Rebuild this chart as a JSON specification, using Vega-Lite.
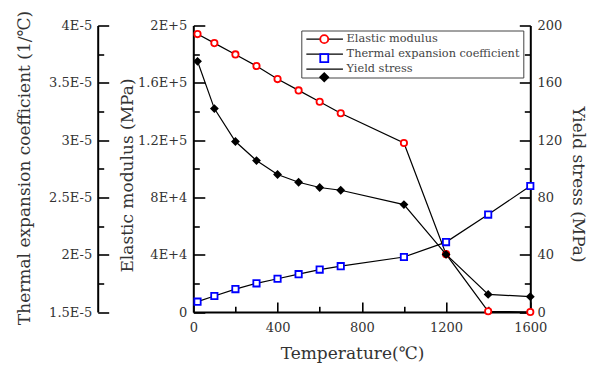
{
  "$schema": "https://vega.github.io/schema/vega-lite/v6.json",
  "width": 337,
  "height": 286.5,
  "autosize": {"type": "none"},
  "padding": {"left": 193.3, "top": 25.5, "right": 65.7, "bottom": 53},
  "background": "white",
  "config": {
    "view": {"stroke": null},
    "axis": {
      "domainColor": "black", "domainWidth": 2, "tickColor": "black", "tickWidth": 1.6,
      "grid": false, "labelFont": "DejaVu Serif", "labelFontSize": 13, "labelColor": "#333",
      "titleFont": "DejaVu Serif", "titleFontSize": 17, "titleFontWeight": "normal", "titleColor": "#333",
      "labelFlush": false, "labelOverlap": false, "labelBound": false
    },
    "legend": {"labelFont": "DejaVu Serif", "labelFontSize": 11.3, "labelLimit": 400}
  },
  "data": {
    "values": [
      {"T": 20, "series": "Elastic modulus", "value": 194000},
      {"T": 100, "series": "Elastic modulus", "value": 187700},
      {"T": 200, "series": "Elastic modulus", "value": 179800},
      {"T": 300, "series": "Elastic modulus", "value": 171700},
      {"T": 400, "series": "Elastic modulus", "value": 162600},
      {"T": 500, "series": "Elastic modulus", "value": 154700},
      {"T": 600, "series": "Elastic modulus", "value": 146800},
      {"T": 700, "series": "Elastic modulus", "value": 138700},
      {"T": 1000, "series": "Elastic modulus", "value": 118000},
      {"T": 1200, "series": "Elastic modulus", "value": 40400},
      {"T": 1400, "series": "Elastic modulus", "value": 500},
      {"T": 1600, "series": "Elastic modulus", "value": 0},
      {"T": 20, "series": "Thermal expansion coefficient", "value": 1.59e-5},
      {"T": 100, "series": "Thermal expansion coefficient", "value": 1.64e-5},
      {"T": 200, "series": "Thermal expansion coefficient", "value": 1.70e-5},
      {"T": 300, "series": "Thermal expansion coefficient", "value": 1.75e-5},
      {"T": 400, "series": "Thermal expansion coefficient", "value": 1.79e-5},
      {"T": 500, "series": "Thermal expansion coefficient", "value": 1.83e-5},
      {"T": 600, "series": "Thermal expansion coefficient", "value": 1.87e-5},
      {"T": 700, "series": "Thermal expansion coefficient", "value": 1.90e-5},
      {"T": 1000, "series": "Thermal expansion coefficient", "value": 1.98e-5},
      {"T": 1200, "series": "Thermal expansion coefficient", "value": 2.11e-5},
      {"T": 1400, "series": "Thermal expansion coefficient", "value": 2.35e-5},
      {"T": 1600, "series": "Thermal expansion coefficient", "value": 2.60e-5},
      {"T": 20, "series": "Yield stress", "value": 175},
      {"T": 100, "series": "Yield stress", "value": 142},
      {"T": 200, "series": "Yield stress", "value": 119},
      {"T": 300, "series": "Yield stress", "value": 105.7},
      {"T": 400, "series": "Yield stress", "value": 96},
      {"T": 500, "series": "Yield stress", "value": 90.6},
      {"T": 600, "series": "Yield stress", "value": 86.9},
      {"T": 700, "series": "Yield stress", "value": 85},
      {"T": 1000, "series": "Yield stress", "value": 75},
      {"T": 1200, "series": "Yield stress", "value": 40.2},
      {"T": 1400, "series": "Yield stress", "value": 12.3},
      {"T": 1600, "series": "Yield stress", "value": 10.7}
    ]
  },
  "encoding": {
    "x": {
      "field": "T", "type": "quantitative",
      "scale": {"domain": [0, 1600], "nice": false},
      "axis": {
        "values": [0, 200, 400, 600, 800, 1000, 1200, 1400, 1600],
        "format": "d",
        "labelExpr": "datum.value % 400 === 0 ? datum.label : ''",
        "tickSize": {"condition": {"test": "datum.value % 400 === 0", "value": -10}, "value": -5.7},
        "labelPadding": 19,
        "title": "Temperature(℃)",
        "titleX": 158.7, "titleY": 41, "titleBaseline": "middle", "titleAlign": "center"
      }
    }
  },
  "layer": [
    {
      "transform": [{"filter": "datum.series === 'Elastic modulus'"}],
      "encoding": {
        "y": {
          "field": "value", "type": "quantitative",
          "scale": {"domain": [0, 200000], "nice": false, "zero": false},
          "axis": {
            "orient": "left",
            "values": [0, 20000, 40000, 60000, 80000, 100000, 120000, 140000, 160000, 180000, 200000],
            "labelExpr": "datum.value === 0 ? '0' : datum.value % 40000 !== 0 ? '' : datum.value < 100000 ? (datum.value/10000) + 'E+4' : (datum.value/100000) + 'E+5'",
            "tickSize": {"condition": {"test": "datum.value % 40000 === 0", "value": -11.5}, "value": -6},
            "labelPadding": 18,
            "title": "Elastic modulus (MPa)",
            "titleX": -66, "titleY": 149.5, "titleAngle": -90, "titleBaseline": "middle", "titleAlign": "center"
          }
        }
      },
      "layer": [
        {
          "mark": {"type": "line", "strokeWidth": 1.2},
          "encoding": {
            "stroke": {"field": "series", "type": "nominal",
              "scale": {"domain": ["Elastic modulus", "Thermal expansion coefficient", "Yield stress"], "range": ["black", "black", "black"]},
              "legend": {"orient": "none", "legendX": 108, "legendY": 5, "title": null, "symbolType": "M-0.9,0H8.25", "symbolSize": 64, "symbolStrokeWidth": 1.2, "symbolStrokeColor": "black", "labelOffset": 31, "labelFontSize": 11.3, "labelFont": "DejaVu Serif", "labelLimit": 400, "labelColor": "#444", "padding": 3, "rowPadding": 3, "strokeColor": "#444", "zindex": 1}}
          }
        },
        {
          "mark": {"type": "point", "filled": false, "size": 40, "strokeWidth": 1.8, "opacity": 1},
          "encoding": {
            "color": {"field": "series", "type": "nominal", "scale": {"range": ["#ff0000", "#0000ff", "#000000"]},
              "legend": {"orient": "none", "legendX": 122.3, "legendY": 5, "title": null, "symbolSize": 64, "symbolStrokeWidth": 1.8, "labelExpr": "''", "labelFontSize": 11.3, "labelFont": "DejaVu Serif", "padding": 3, "rowPadding": 3, "zindex": 2}},
            "shape": {"field": "series", "type": "nominal", "scale": {"range": ["circle", "square", "diamond"]},
              "legend": {"orient": "none", "legendX": 122.3, "legendY": 5, "title": null, "symbolSize": 64, "symbolStrokeWidth": 1.8, "labelExpr": "''", "labelFontSize": 11.3, "labelFont": "DejaVu Serif", "padding": 3, "rowPadding": 3, "zindex": 2}},
            "fill": {"field": "series", "type": "nominal", "scale": {"range": ["white", "white", "black"]},
              "legend": {"orient": "none", "legendX": 122.3, "legendY": 5, "title": null, "symbolSize": 64, "symbolStrokeWidth": 1.8, "labelExpr": "''", "labelFontSize": 11.3, "labelFont": "DejaVu Serif", "padding": 3, "rowPadding": 3, "zindex": 2}}
          }
        }
      ]
    },
    {
      "transform": [{"filter": "datum.series === 'Thermal expansion coefficient'"}],
      "encoding": {
        "y": {
          "field": "value", "type": "quantitative",
          "scale": {"domain": [1.5e-5, 4e-5], "nice": false, "zero": false},
          "axis": {
            "orient": "left", "offset": 95.6,
            "values": [1.5e-5, 1.75e-5, 2e-5, 2.25e-5, 2.5e-5, 2.75e-5, 3e-5, 3.25e-5, 3.5e-5, 3.75e-5, 4e-5],
            "labelExpr": "round(datum.value*1e7) % 50 === 0 ? format(datum.value*1e5, '.2~f') + 'E-5' : ''",
            "tickSize": {"condition": {"test": "round(datum.value*1e7) % 50 === 0", "value": -11}, "value": -6},
            "labelPadding": 17,
            "title": "Thermal expansion coefficient (1/℃)",
            "titleX": -73.7, "titleY": 142, "titleAngle": -90, "titleBaseline": "middle", "titleAlign": "center"
          }
        }
      },
      "layer": [
        {
          "mark": {"type": "line", "strokeWidth": 1.2},
          "encoding": {
            "stroke": {"field": "series", "type": "nominal",
              "scale": {"domain": ["Elastic modulus", "Thermal expansion coefficient", "Yield stress"], "range": ["black", "black", "black"]},
              "legend": {"orient": "none", "legendX": 108, "legendY": 5, "title": null, "symbolType": "M-0.9,0H8.25", "symbolSize": 64, "symbolStrokeWidth": 1.2, "symbolStrokeColor": "black", "labelOffset": 31, "labelFontSize": 11.3, "labelFont": "DejaVu Serif", "labelLimit": 400, "labelColor": "#444", "padding": 3, "rowPadding": 3, "strokeColor": "#444", "zindex": 1}}
          }
        },
        {
          "mark": {"type": "point", "filled": false, "size": 40, "strokeWidth": 1.8, "opacity": 1},
          "encoding": {
            "color": {"field": "series", "type": "nominal", "scale": {"range": ["#ff0000", "#0000ff", "#000000"]},
              "legend": {"orient": "none", "legendX": 122.3, "legendY": 5, "title": null, "symbolSize": 64, "symbolStrokeWidth": 1.8, "labelExpr": "''", "labelFontSize": 11.3, "labelFont": "DejaVu Serif", "padding": 3, "rowPadding": 3, "zindex": 2}},
            "shape": {"field": "series", "type": "nominal", "scale": {"range": ["circle", "square", "diamond"]},
              "legend": {"orient": "none", "legendX": 122.3, "legendY": 5, "title": null, "symbolSize": 64, "symbolStrokeWidth": 1.8, "labelExpr": "''", "labelFontSize": 11.3, "labelFont": "DejaVu Serif", "padding": 3, "rowPadding": 3, "zindex": 2}},
            "fill": {"field": "series", "type": "nominal", "scale": {"range": ["white", "white", "black"]},
              "legend": {"orient": "none", "legendX": 122.3, "legendY": 5, "title": null, "symbolSize": 64, "symbolStrokeWidth": 1.8, "labelExpr": "''", "labelFontSize": 11.3, "labelFont": "DejaVu Serif", "padding": 3, "rowPadding": 3, "zindex": 2}}
          }
        }
      ]
    },
    {
      "transform": [{"filter": "datum.series === 'Yield stress'"}],
      "encoding": {
        "y": {
          "field": "value", "type": "quantitative",
          "scale": {"domain": [0, 200], "nice": false, "zero": false},
          "axis": {
            "orient": "right",
            "values": [0, 20, 40, 60, 80, 100, 120, 140, 160, 180, 200],
            "labelExpr": "datum.value % 40 === 0 ? datum.label : ''",
            "tickSize": {"condition": {"test": "datum.value % 40 === 0", "value": -11}, "value": -6},
            "labelPadding": 17.7,
            "title": "Yield stress (MPa)",
            "titleX": 47.3, "titleY": 158.5, "titleAngle": 90, "titleBaseline": "middle", "titleAlign": "center"
          }
        }
      },
      "layer": [
        {
          "mark": {"type": "line", "strokeWidth": 1.2},
          "encoding": {
            "stroke": {"field": "series", "type": "nominal",
              "scale": {"domain": ["Elastic modulus", "Thermal expansion coefficient", "Yield stress"], "range": ["black", "black", "black"]},
              "legend": {"orient": "none", "legendX": 108, "legendY": 5, "title": null, "symbolType": "M-0.9,0H8.25", "symbolSize": 64, "symbolStrokeWidth": 1.2, "symbolStrokeColor": "black", "labelOffset": 31, "labelFontSize": 11.3, "labelFont": "DejaVu Serif", "labelLimit": 400, "labelColor": "#444", "padding": 3, "rowPadding": 3, "strokeColor": "#444", "zindex": 1}}
          }
        },
        {
          "mark": {"type": "point", "filled": false, "size": 40, "strokeWidth": 1.8, "opacity": 1},
          "encoding": {
            "color": {"field": "series", "type": "nominal", "scale": {"range": ["#ff0000", "#0000ff", "#000000"]},
              "legend": {"orient": "none", "legendX": 122.3, "legendY": 5, "title": null, "symbolSize": 64, "symbolStrokeWidth": 1.8, "labelExpr": "''", "labelFontSize": 11.3, "labelFont": "DejaVu Serif", "padding": 3, "rowPadding": 3, "zindex": 2}},
            "shape": {"field": "series", "type": "nominal", "scale": {"range": ["circle", "square", "diamond"]},
              "legend": {"orient": "none", "legendX": 122.3, "legendY": 5, "title": null, "symbolSize": 64, "symbolStrokeWidth": 1.8, "labelExpr": "''", "labelFontSize": 11.3, "labelFont": "DejaVu Serif", "padding": 3, "rowPadding": 3, "zindex": 2}},
            "fill": {"field": "series", "type": "nominal", "scale": {"range": ["white", "white", "black"]},
              "legend": {"orient": "none", "legendX": 122.3, "legendY": 5, "title": null, "symbolSize": 64, "symbolStrokeWidth": 1.8, "labelExpr": "''", "labelFontSize": 11.3, "labelFont": "DejaVu Serif", "padding": 3, "rowPadding": 3, "zindex": 2}}
          }
        }
      ]
    }
  ],
  "resolve": {"scale": {"y": "independent"}, "axis": {"y": "independent"}}
}
